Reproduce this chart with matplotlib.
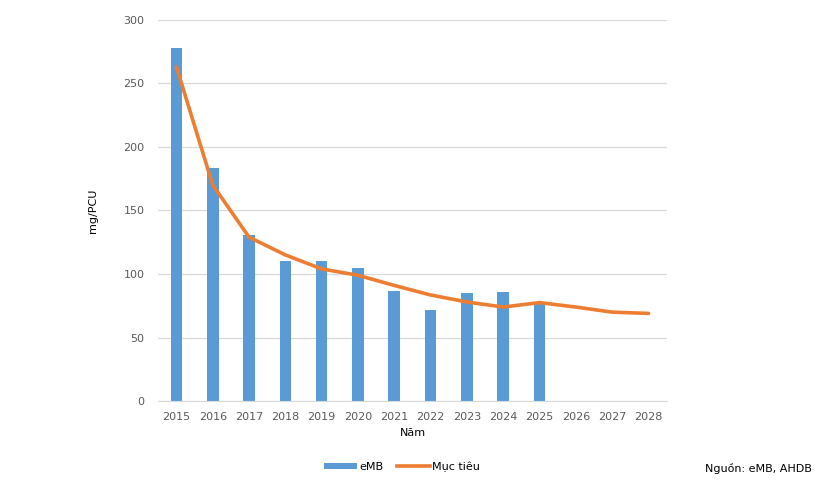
import numpy as np
import matplotlib
matplotlib.use("Agg")
import matplotlib.pyplot as plt
from matplotlib.patches import Patch
from matplotlib.lines import Line2D

# ── DATA ───────────────────────────────────────────
nam = ["2015", "2016", "2017", "2018", "2019", "2020", "2021",
       "2022", "2023", "2024", "2025", "2026", "2027", "2028"]
emb = [278, 183, 131, 110, 110, 105, 87, 72, 85, 86, 77]
muc_tieu = [263, 170, 129, 115, 104, 99, 91, 83.5, 78, 74, 77.5, 74, 70, 69]

MAU_COT = "#5B9BD5"
MAU_DUONG = "#ED7D31"
MAU_CHU = "#595959"
# ───────────────────────────────────────────────────

fig = plt.figure(figsize=(8.2, 4.94), dpi=100)
ax = fig.add_axes([0.193, 0.188, 0.62, 0.772])

x = np.arange(len(nam))
ax.bar(x[:len(emb)], emb, width=0.32, color=MAU_COT, zorder=2)
ax.plot(x, muc_tieu, color=MAU_DUONG, linewidth=2.6, zorder=3,
        solid_joinstyle="round", solid_capstyle="round")

ax.set_xlim(-0.5, len(nam) - 0.5)
ax.set_ylim(0, 300)
ax.set_yticks(range(0, 301, 50))
ax.set_xticks(x)
ax.set_xticklabels(nam)
ax.grid(axis="y", color="#D9D9D9", linewidth=0.9, zorder=0)
ax.tick_params(axis="both", length=0, labelsize=8, colors=MAU_CHU, pad=8)
ax.tick_params(axis="y", pad=10)

for s in ["top", "right", "left"]:
    ax.spines[s].set_visible(False)
ax.spines["bottom"].set_color("#D9D9D9")

ax.set_xlabel("Năm", fontsize=8, color="black", labelpad=4)
ax.set_ylabel("mg/PCU", fontsize=8, color="black", labelpad=18)

handles = [Patch(facecolor=MAU_COT, label="eMB"),
           Line2D([0], [0], color=MAU_DUONG, linewidth=2.6, label="Mục tiêu")]
fig.legend(handles=handles, loc="center", bbox_to_anchor=(0.49, 0.055), ncol=2,
           frameon=False, fontsize=8, handlelength=3, handleheight=0.5,
           columnspacing=1.2, handletextpad=0.2)

fig.text(0.86, 0.052, "Nguồn: eMB, AHDB", fontsize=8, color="black", va="center")

fig.savefig("out.png", dpi=100)
